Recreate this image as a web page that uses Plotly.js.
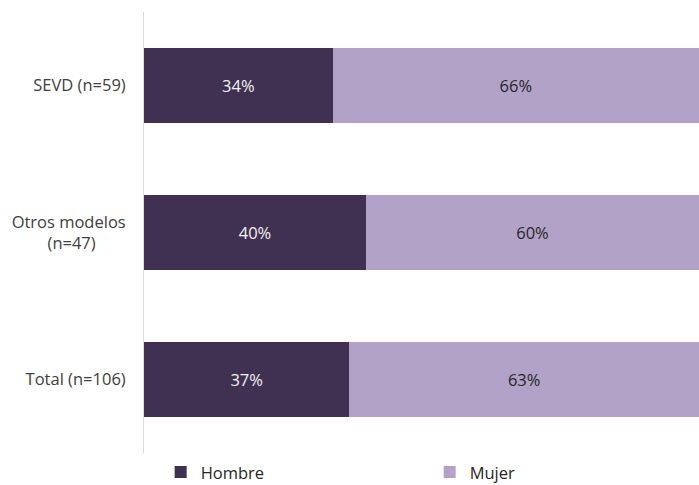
<!DOCTYPE html>
<html>
<head>
<meta charset="utf-8">
<script src="https://cdn.plot.ly/plotly-3.0.1.min.js"></script>
<style>html,body{margin:0;padding:0;background:#fff;}#chart{width:699px;height:485px;}</style>
</head>
<body>
<div id="chart"></div>
<script>
const categories = ["SEVD (n=59)", "Otros modelos (n=47)", "Total (n=106)"];
const tickLabels = ["SEVD (n=59)", "Otros modelos<br>(n=47)\u00a0\u00a0\u00a0\u00a0\u00a0\u00a0\u00a0", "Total (n=106)"];
const hombre = [34, 40, 37];
const mujer = [66, 60, 63];

const font = "Open Sans, Liberation Sans, sans-serif";
const traces = [
  {
    type: "bar", orientation: "h", name: "Hombre",
    y: categories, x: hombre,
    marker: {color: "#403152"},
    text: hombre.map(v => v + "%"), textposition: "inside", insidetextanchor: "middle",
    textfont: {color: "#f2f2f2", size: 16.5, family: font},
    hoverinfo: "none"
  },
  {
    type: "bar", orientation: "h", name: "Mujer",
    y: categories, x: mujer,
    marker: {color: "#b3a2c7"},
    text: mujer.map(v => v + "%"), textposition: "inside", insidetextanchor: "middle",
    textfont: {color: "#262626", size: 16.5, family: font},
    hoverinfo: "none"
  }
];

const layout = {
  width: 699, height: 485,
  margin: {l: 144, r: 0, t: 12, b: 32},
  barmode: "stack",
  bargap: 0.49,
  paper_bgcolor: "#fff", plot_bgcolor: "#fff",
  font: {family: font, size: 16, color: "#404040"},
  showlegend: true,
  legend: {
    orientation: "h", x: 0.03, xanchor: "left", xref: "paper",
    y: 0.026, yanchor: "middle", yref: "container",
    entrywidth: 224, entrywidthmode: "pixels", itemwidth: 30,
    font: {size: 16.5, color: "#262626", family: font},
    traceorder: "normal"
  },
  xaxis: {range: [0, 100], visible: false, showgrid: false, zeroline: false, fixedrange: true},
  yaxis: {
    type: "category", autorange: "reversed",
    tickvals: categories, ticktext: tickLabels,
    showline: true, linecolor: "#d9d9d9", linewidth: 1,
    showgrid: false, zeroline: false, ticks: "", ticklabelstandoff: 14,
    tickfont: {size: 16.5, color: "#404040", family: font}
  }
};

Plotly.newPlot("chart", traces, layout, {staticPlot: true, displayModeBar: false});
</script>
</body>
</html>
